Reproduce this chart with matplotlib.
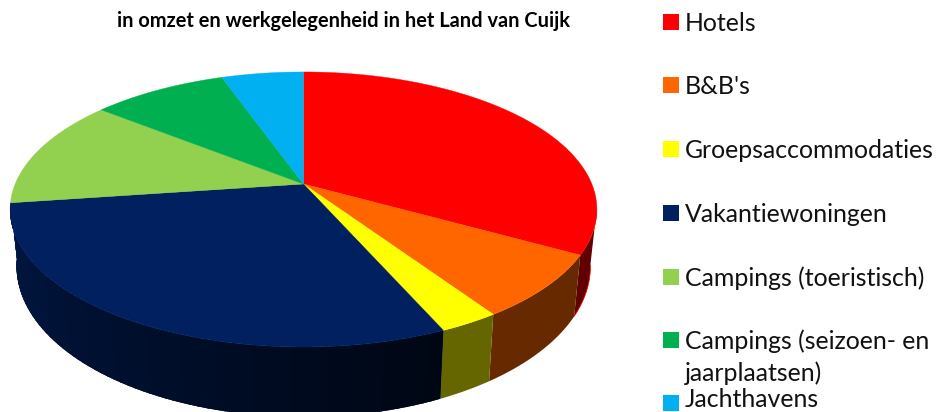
import numpy as np
import matplotlib
matplotlib.use("Agg")
import matplotlib.pyplot as plt
from matplotlib.patches import Polygon, Rectangle

plt.rcParams['font.family'] = ['Lato', 'DejaVu Sans']

categories = ["Hotels", "B&B's", "Groepsaccommodaties", "Vakantiewoningen",
              "Campings (toeristisch)", "Campings (seizoen- en\njaarplaatsen)", "Jachthavens"]
values = [33.1, 7.5, 2.8, 29.4, 12.9, 8.9, 5.4]
colors = ["#FF0000", "#FF6600", "#FFFF00", "#002060", "#92D050", "#00B050", "#00B0F0"]
title = "in omzet en werkgelegenheid in het Land van Cuijk"

# perspective of the pie, in pixels
cx, cy = 303.5, 184
A, B, k = 288.3, 132.8, 0.1854


def top_rim(angle):
    # angle in radians, clockwise from the back of the pie
    u, v = np.sin(angle), np.cos(angle)
    w = 1 + k * v
    return cx + A * u / w, cy - B * v / w


def low_rim(angle):
    x, y = top_rim(angle)
    return cx + 0.978 * (x - cx), 37 + 1.095 * y


def shade(angle_deg):
    # side wall gets lighter towards the left
    return np.interp(angle_deg, [156, 262], [0.2, 0.72])


fig = plt.figure(figsize=(9.36, 4.12), dpi=100)
ax = fig.add_axes([0, 0, 1, 1])
ax.set_xlim(0, 936)
ax.set_ylim(412, 0)
ax.axis("off")

edges = np.cumsum([0] + values) / sum(values) * 360

# side wall first, only the parts facing the viewer
for i, col in enumerate(colors[:4]):
    start, end = edges[i], edges[i + 1]
    if i == 0:
        start = 100  # back of the red slice is hidden
    a = np.radians(np.linspace(start, end, 150))
    xt, yt = top_rim(a)
    xl, yl = low_rim(a)
    pts = np.column_stack([np.r_[xt, xl[::-1]], np.r_[yt, yl[::-1]]])
    rgb = np.array(matplotlib.colors.to_rgb(col))
    if col != "#002060":
        f = 0.38 if i == 0 else 0.4
        ax.add_patch(Polygon(pts, closed=True, fc=rgb * f, ec="none"))
        if i == 0:
            ax.plot(xl, yl, color=col, lw=0.5, solid_capstyle="butt")
        continue
    # navy wall has a gradient, so cut it in strips
    base = Polygon(pts, closed=True, fc=rgb * 0.45, ec="none")
    ax.add_patch(base)
    steps = np.linspace(start, end, 70)
    for a0, a1 in zip(steps[:-1], steps[1:]):
        f = shade((a0 + a1) / 2)
        p0, p1 = top_rim(np.radians(a0)), top_rim(np.radians(a1 + 0.3))
        q1, q0 = low_rim(np.radians(a1 + 0.3)), low_rim(np.radians(a0))
        strip = Polygon([p0, p1, q1, q0], closed=True, fc=rgb * f, ec="none", antialiased=False)
        ax.add_patch(strip)
        strip.set_clip_path(base)

# top of the pie
for i, col in enumerate(colors):
    a = np.radians(np.linspace(edges[i], edges[i + 1], 200))
    x, y = top_rim(a)
    pts = np.column_stack([np.r_[cx, x], np.r_[cy, y]])
    ax.add_patch(Polygon(pts, closed=True, fc=col, ec=col, lw=0.3))

ax.text(343.5, 21, title, ha="center", va="center", fontsize=14.4, fontweight="bold", color="black")

# legend
leg_y = [22, 85, 149, 213, 277, 340, 403]
for name, col, y in zip(categories, colors, leg_y):
    ax.add_patch(Rectangle((663, y - 8), 16, 16, fc=col, ec="none"))
    if "\n" in name:
        first, second = name.split("\n")
        ax.text(685, y + 1, first, va="center", fontsize=17.9, color="#111111")
        ax.text(685, y + 33, second, va="center", fontsize=17.9, color="#111111")
    elif y == leg_y[-1]:
        ax.text(685, 407, name, va="baseline", fontsize=17.9, color="#111111")
    else:
        ax.text(685, y + 1, name, va="center", fontsize=17.9, color="#111111")

fig.savefig("out.png", dpi=100)
